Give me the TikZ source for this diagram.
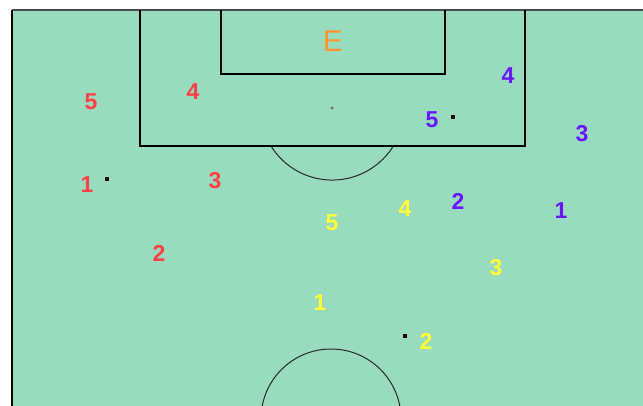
\documentclass[tikz,border=0pt]{standalone}
\usepackage{fontspec}
\setmainfont{Liberation Sans}
\definecolor{pitch}{RGB}{152,219,191}
\definecolor{redp}{RGB}{255,64,64}
\definecolor{bluep}{RGB}{104,20,255}
\definecolor{yellowp}{RGB}{255,255,51}
\definecolor{orangep}{RGB}{255,150,50}
\definecolor{markline}{RGB}{40,40,40}
\tikzset{
  num/.style={font=\fontsize{23}{23}\selectfont\bfseries, inner sep=0pt},
  redn/.style={num, text=redp},
  bluen/.style={num, text=bluep},
  yellown/.style={num, text=yellowp},
  pline/.style={draw=black, line width=1.2pt},
  cline/.style={draw=markline, line width=1pt},
  ball/.style={fill=black!85!red, minimum size=4.5pt, inner sep=0pt},
}
\begin{document}
\begin{tikzpicture}[x=1pt,y=-1pt]
\useasboundingbox (0,0) rectangle (643,406);
\fill[white] (0,0) rectangle (643,406);
\fill[pitch] (12,10) rectangle (643,406);
\begin{scope}
\clip (12,10) rectangle (643,406);
% centre circle
\draw[cline] (331,419) circle (70);
% penalty arc
\draw[cline] (271,146) arc[start angle=148.2, end angle=31.8, radius=72];
\end{scope}
% borders
\draw[draw=black!70, line width=1.4pt] (12,10) -- (643,10);
\draw[pline] (12,10) -- (12,406);
% penalty box and goal area
\draw[pline] (140,10) -- (140,146) -- (525,146) -- (525,10);
\draw[pline] (221,10) -- (221,74) -- (445,74) -- (445,10);
% penalty spot
\fill[black!60] (332,108) circle (1.5);
% E
\node[text=orangep, font=\fontsize{30}{30}\selectfont, inner sep=0pt] (E) at (333,41) {E};
% red
\node[redn] (r5) at (91,102) {5};
\node[redn] (r4) at (193,92) {4};
\node[redn] (r1) at (87,185) {1};
\node[redn] (r3) at (215,181) {3};
\node[redn] (r2) at (159,253) {2};
% blue
\node[bluen] (b4) at (508,76) {4};
\node[bluen] (b5) at (432,120) {5};
\node[bluen] (b3) at (582,134) {3};
\node[bluen] (b2) at (458,201) {2};
\node[bluen] (b1) at (561,211) {1};
% yellow
\node[yellown] (y5) at (332,223) {5};
\node[yellown] (y4) at (405,209) {4};
\node[yellown] (y3) at (496,268) {3};
\node[yellown] (y1) at (320,303) {1};
\node[yellown] (y2) at (426,341) {2};
% balls
\node[ball] (k1) at (107,179) {};
\node[ball] (k2) at (453,117) {};
\node[ball] (k3) at (405,336) {};
\end{tikzpicture}
\end{document}
